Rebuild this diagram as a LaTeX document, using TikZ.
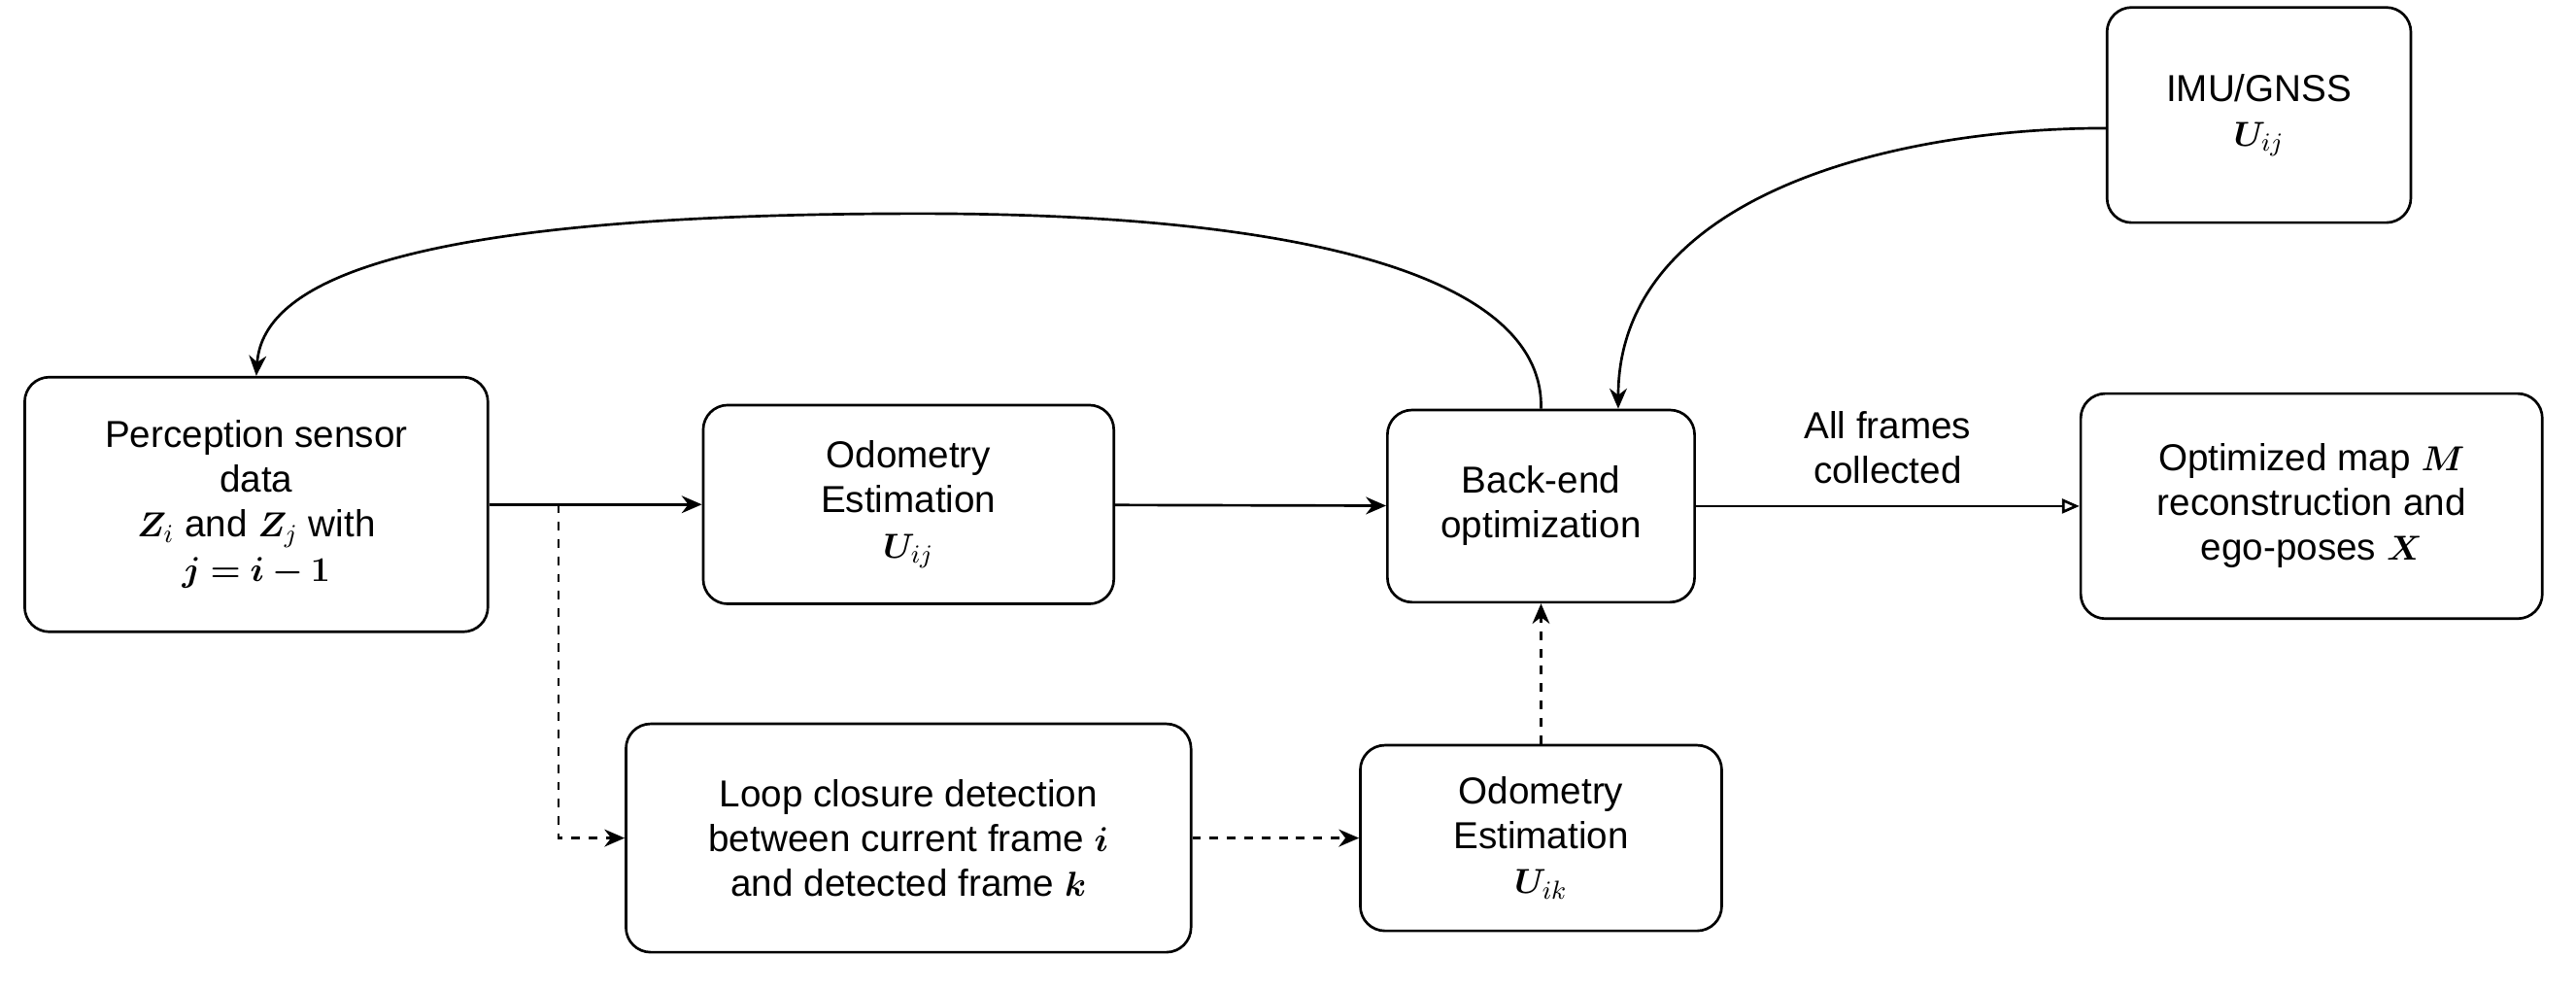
\documentclass[tikz,border=0pt]{standalone}
\usepackage{amsmath,bm}
\usepackage{fontspec}
\setmainfont{Liberation Sans}
\usetikzlibrary{arrows.meta}
\begin{document}
\begin{tikzpicture}[x=0.02cm,y=-0.02cm,
  box/.style={draw,rounded corners=0.3cm,line width=0.9pt,align=center,inner sep=2pt,font=\fontsize{13}{15.5}\selectfont},
  arr/.style={line width=0.9pt,-{Stealth[length=7pt,width=6pt]}},
  darr/.style={arr,dashed}]
\useasboundingbox (0,0) rectangle (1568,602);
\node[box,minimum width=5.64cm,minimum height=3.1cm] (per) at (156,307) {Perception sensor\\data\\$\bm{Z}_i$ and $\bm{Z}_j$ with\\$\bm{j=i-1}$};
\node[box,minimum width=5cm,minimum height=2.42cm] (odo) at (553,307) {Odometry\\Estimation\\$\bm{U}_{ij}$};
\node[box,minimum width=3.74cm,minimum height=2.34cm] (be) at (938,308) {Back-end\\optimization};
\node[box,minimum width=5.62cm,minimum height=2.74cm] (opt) at (1407,308) {Optimized map $\bm{M}$\\reconstruction and\\ego-poses $\bm{X}$};
\node[box,minimum width=3.7cm,minimum height=2.62cm] (imu) at (1375,70) {IMU/GNSS\\$\bm{U}_{ij}$};
\node[box,minimum width=6.88cm,minimum height=2.78cm] (loop) at (553,510) {Loop closure detection\\between current frame $\bm{i}$\\and detected frame $\bm{k}$};
\node[box,minimum width=4.4cm,minimum height=2.26cm] (odk) at (938,510) {Odometry\\Estimation\\$\bm{U}_{ik}$};
\draw[arr] (per) -- (odo);
\draw[arr] (odo) -- (be);
\draw[line width=0.9pt,-{Triangle[open,length=6pt,width=5pt]}] (be) -- node[above=4pt,align=center,font=\fontsize{13}{15.5}\selectfont]{All frames\\collected} (opt);
\coordinate (split) at (340,307);
\draw[darr] (split) |- (loop.west);
\draw[darr] (loop) -- (odk);
\draw[darr] (odk) -- (be);
\draw[arr] (be.north) .. controls (940,170) and (800,130) .. (560,130) .. controls (250,130) and (160,170) .. (per.north);
\draw[arr] (imu.west|-0,78) .. controls (1150,78) and (985,120) .. (be.north east -| 985,0);
\end{tikzpicture}
\end{document}
